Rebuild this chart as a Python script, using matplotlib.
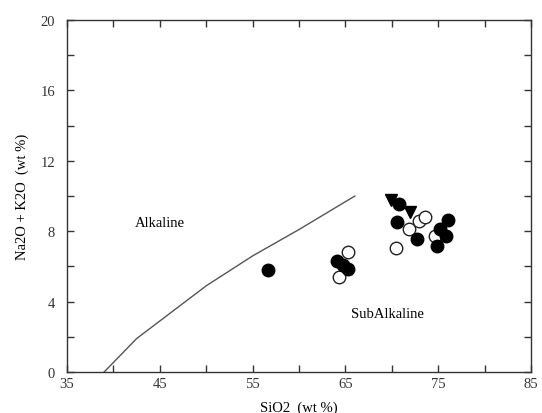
import matplotlib.pyplot as plt
from matplotlib.ticker import MultipleLocator, FixedLocator

# Alkaline / SubAlkaline boundary
line_x = [39.0, 42.5, 50.0, 55.0, 60.0, 66.0]
line_y = [0.0, 1.9, 4.9, 6.6, 8.1, 10.0]

# filled circles
filled_x = [56.6, 64.1, 64.7, 65.3, 70.5, 70.8, 72.7, 74.9, 75.2, 75.8, 76.0]
filled_y = [5.8, 6.3, 6.1, 5.85, 8.55, 9.55, 7.55, 7.15, 8.15, 7.75, 8.65]

# open circles
open_x = [65.3, 64.3, 70.4, 71.85, 72.9, 73.6, 74.6]
open_y = [6.8, 5.4, 7.05, 8.15, 8.6, 8.8, 7.75]

# filled triangles
tri_x = [69.9, 72.0]
tri_y = [9.75, 9.1]

x_ticks = [35, 45, 55, 65, 75, 85]
y_ticks = [0, 4, 8, 12, 16, 20]

plt.rcParams['font.family'] = ['Liberation Serif', 'DejaVu Serif']

fig = plt.figure(figsize=(5.42, 4.14), dpi=100)
ax = fig.add_axes([0.1236, 0.099, 0.8564, 0.850])

ax.plot(line_x, line_y, color='#555555', lw=1.0)
ax.plot(open_x, open_y, 'o', mfc='white', mec='#222222', mew=1.0, ms=9)
ax.plot(filled_x, filled_y, 'o', color='black', ms=9)
ax.plot(tri_x, tri_y, 'v', color='black', ms=9)

ax.text(45.0, 8.5, 'Alkaline', ha='center', va='center', fontsize=10.5)
ax.text(69.5, 3.35, 'SubAlkaline', ha='center', va='center', fontsize=10.5)

ax.set_xlim(35, 85)
ax.set_ylim(0, 20)
ax.xaxis.set_major_locator(FixedLocator(x_ticks))
ax.xaxis.set_minor_locator(MultipleLocator(5))
ax.yaxis.set_major_locator(FixedLocator(y_ticks))
ax.yaxis.set_minor_locator(MultipleLocator(2))
ax.tick_params(which='both', direction='in', top=True, right=True,
               length=5, width=1, color='#333333', labelsize=10.5,
               labelcolor='#333333')
ax.tick_params(axis='y', which='major', pad=8.5)
for s in ax.spines.values():
    s.set_color('#333333')
    s.set_linewidth(1)

ax.set_xlabel('SiO2  (wt %)', fontsize=10.5, labelpad=8)
ax.set_ylabel('Na2O + K2O  (wt %)', fontsize=10.5, labelpad=8)

fig.savefig('out.png', dpi=100)
